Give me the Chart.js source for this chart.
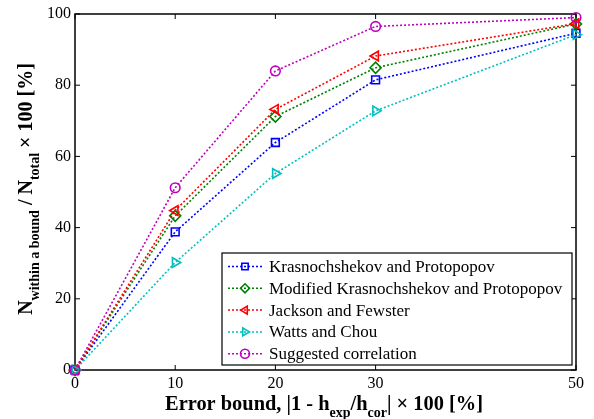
<!DOCTYPE html>
<html>
<head>
<meta charset="utf-8">
<script src="https://cdn.jsdelivr.net/npm/chart.js@4"></script>
<style>
  html, body { margin: 0; padding: 0; background: #fff; }
  #wrap { width: 594px; height: 419px; position: relative; }
</style>
</head>
<body>
<div id="wrap"><canvas id="boundChart"></canvas></div>
<script>
// error bound values on the x axis
const errorBounds = [0, 10, 20, 30, 50];
const xTickValues = [0, 10, 20, 30, 50];
const yTickValues = [0, 20, 40, 60, 80, 100];

const seriesNames = [
    'Krasnochshekov and Protopopov',
    'Modified Krasnochshekov and Protopopov',
    'Jackson and Fewster',
    'Watts and Chou',
    'Suggested correlation'
];
const krasnochshekov = [0, 38.8, 63.9, 81.5, 94.6];
const modifiedKrasnochshekov = [0, 43.3, 71.2, 84.9, 97.2];
const jacksonFewster = [0, 44.8, 73.2, 88.2, 97.3];
const wattsChou = [0, 30.2, 55.2, 72.8, 94.2];
const suggested = [0, 51.2, 84.0, 96.5, 99.0];

const seriesValues = [krasnochshekov, modifiedKrasnochshekov, jacksonFewster, wattsChou, suggested];
const colors = ['#0000ff', '#008000', '#ff0000', '#00bfbf', '#bf00bf'];
const markers = ['rect', 'rectRot', 'triangle', 'triangle', 'circle'];
const rotations = [0, 0, -90, 90, 0];
const markerSizes = [5.5, 5.5, 5.5, 5.5, 4.8];

const serif = '"Liberation Serif", "Times New Roman", serif';

function drawRich(ctx, parts, cx, y, size, subSize) {
    let w = 0;
    parts.forEach(p => {
        ctx.font = 'bold ' + (p.sub ? subSize : size) + 'px ' + serif;
        p.w = ctx.measureText(p.t).width;
        w += p.w;
    });
    let x = cx - w / 2;
    ctx.textAlign = 'left';
    ctx.textBaseline = 'alphabetic';
    parts.forEach(p => {
        ctx.font = 'bold ' + (p.sub ? subSize : size) + 'px ' + serif;
        ctx.fillText(p.t, x, p.sub ? y + 7 : y);
        x += p.w;
    });
}

const framePlugin = {
    id: 'frame',
    beforeDatasetsDraw(chart) {
        const { ctx, chartArea: a, scales } = chart;
        ctx.save();
        ctx.strokeStyle = '#000';
        ctx.lineWidth = 1.5;
        ctx.strokeRect(a.left, a.top, a.right - a.left, a.bottom - a.top);
        ctx.lineWidth = 1;
        ctx.beginPath();
        xTickValues.forEach(v => {
            const px = scales.x.getPixelForValue(v);
            ctx.moveTo(px, a.bottom); ctx.lineTo(px, a.bottom - 5);
            ctx.moveTo(px, a.top); ctx.lineTo(px, a.top + 5);
        });
        yTickValues.forEach(v => {
            const py = scales.y.getPixelForValue(v);
            ctx.moveTo(a.left, py); ctx.lineTo(a.left + 5, py);
            ctx.moveTo(a.right, py); ctx.lineTo(a.right - 5, py);
        });
        ctx.stroke();
        ctx.restore();
    },
    afterDraw(chart) {
        const { ctx } = chart;
        ctx.save();
        ctx.fillStyle = '#000';
        drawRich(ctx, [
            { t: 'Error bound, |1 - h' },
            { t: 'exp', sub: true },
            { t: '/h' },
            { t: 'cor', sub: true },
            { t: '| \u00d7 100 [%]' }
        ], 324, 410, 20.4, 14);
        ctx.translate(32, 189);
        ctx.rotate(-Math.PI / 2);
        drawRich(ctx, [
            { t: 'N' },
            { t: 'within a bound', sub: true },
            { t: ' / N' },
            { t: 'total', sub: true },
            { t: ' \u00d7 100 [%]' }
        ], 0, 0, 20, 14);
        ctx.restore();

        // legend box inside the plot
        const box = { left: 222, top: 253, right: 572, bottom: 365 };
        ctx.save();
        ctx.fillStyle = '#fff';
        ctx.fillRect(box.left, box.top, box.right - box.left, box.bottom - box.top);
        ctx.strokeStyle = '#000';
        ctx.lineWidth = 1.2;
        ctx.strokeRect(box.left, box.top, box.right - box.left, box.bottom - box.top);
        chart.data.datasets.forEach((ds, i) => {
            const y = 266.5 + i * 21.8;
            ctx.strokeStyle = ds.borderColor;
            ctx.lineWidth = 1.5;
            ctx.setLineDash([2, 2]);
            ctx.beginPath();
            ctx.moveTo(228, y); ctx.lineTo(263, y);
            ctx.stroke();
            ctx.setLineDash([]);
            ctx.lineWidth = 1.6;
            ctx.fillStyle = 'rgba(0,0,0,0)';
            Chart.helpers.drawPoint(ctx, {
                pointStyle: ds.pointStyle, rotation: ds.pointRotation,
                radius: 4.5, borderWidth: 1.6
            }, 245, y);
            ctx.fillStyle = '#000';
            ctx.font = '17px ' + serif;
            ctx.textAlign = 'left';
            ctx.textBaseline = 'middle';
            ctx.fillText(ds.label, 269, y + 1);
        });
        ctx.restore();
    }
};

const datasets = seriesNames.map((name, i) => ({
    label: name,
    data: errorBounds.map((x, j) => ({ x: x, y: seriesValues[i][j] })),
    borderColor: colors[i],
    backgroundColor: 'rgba(0,0,0,0)',
    borderWidth: 1.6,
    borderDash: [2, 2],
    pointStyle: markers[i],
    pointRotation: rotations[i],
    pointRadius: markerSizes[i],
    pointBorderWidth: 1.6,
    pointBackgroundColor: 'rgba(0,0,0,0)',
    pointBorderColor: colors[i],
    tension: 0,
    clip: false,
    order: 5 - i
}));

new Chart(document.getElementById('boundChart'), {
    type: 'line',
    data: { datasets: datasets },
    options: {
        responsive: true,
        maintainAspectRatio: false,
        animation: false,
        layout: { padding: { top: 14, right: 18, left: 0, bottom: 0 } },
        plugins: {
            legend: { display: false },
            tooltip: { enabled: false }
        },
        scales: {
            x: {
                type: 'linear',
                min: 0,
                max: 50,
                afterBuildTicks: axis => { axis.ticks = xTickValues.map(v => ({ value: v })); },
                afterFit: axis => { axis.height = 49; },
                grid: { display: false, drawTicks: false },
                border: { display: false },
                ticks: { color: '#000', padding: 4, maxRotation: 0, font: { family: serif, size: 16 } }
            },
            y: {
                min: 0,
                max: 100,
                afterBuildTicks: axis => { axis.ticks = yTickValues.map(v => ({ value: v })); },
                afterFit: axis => { axis.width = 75; },
                grid: { display: false, drawTicks: false },
                border: { display: false },
                ticks: { color: '#000', padding: 4, font: { family: serif, size: 16 } }
            }
        }
    },
    plugins: [framePlugin]
});
</script>
</body>
</html>
